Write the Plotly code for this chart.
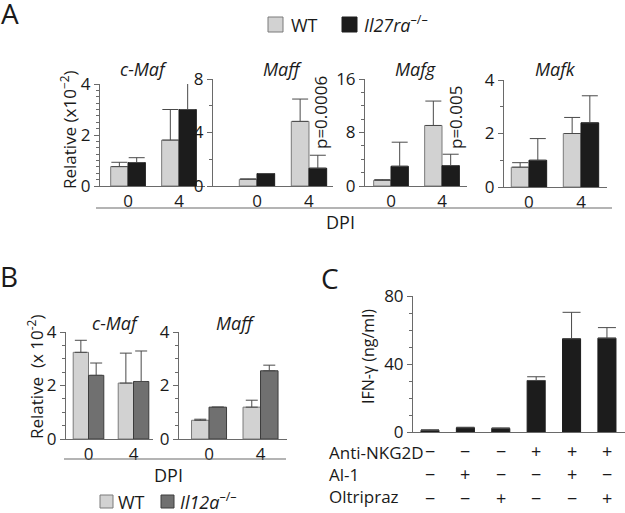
import plotly.graph_objects as go

W, H = 625, 513
FONT = "Open Sans"

# ---------------- data ----------------
dpi_labels = ["0", "4"]

# Panel A (WT vs Il27ra-/-), values x10^-2
a_genes = ["c-Maf", "Maff", "Mafg", "Mafk"]
a_wt = [[0.76, 1.80], [0.50, 4.83], [0.85, 9.05], [0.74, 2.00]]
a_wt_err = [[0.17, 1.20], [0.03, 1.67], [0.10, 3.65], [0.17, 0.60]]
a_ko = [[0.92, 3.00], [0.93, 1.33], [2.95, 3.05], [1.00, 2.40]]
a_ko_err = [[0.19, 1.20], [0.0, 0.97], [3.60, 1.70], [0.81, 1.01]]
a_ymax = [4, 8, 16, 4]
a_ytick = [[0, 2, 4], [0, 4, 8], [0, 8, 16], [0, 2, 4]]
a_minor = [0.25, 2, 2, 1]

# Panel B (WT vs Il12a-/-)
b_genes = ["c-Maf", "Maff"]
b_wt = [[3.24, 2.09], [0.70, 1.19]]
b_wt_err = [[0.45, 1.12], [0.04, 0.26]]
b_ko = [[2.38, 2.15], [1.19, 2.55]]
b_ko_err = [[0.46, 1.14], [0.0, 0.21]]

# Panel C IFN-gamma
c_vals = [1.0, 2.5, 2.1, 30.3, 54.8, 55.2]
c_err = [0.3, 0.3, 0.3, 2.2, 15.6, 6.2]
c_anti = ["−", "−", "−", "+", "+", "+"]
c_al1 = ["−", "+", "−", "−", "+", "−"]
c_olt = ["−", "−", "+", "−", "−", "+"]
c_rows = ["Anti-NKG2D", "Al-1", "Oltripraz"]

# ---------------- layout helpers ----------------
def xd(px):
    return px / W

def yd(py):
    return 1 - py / H

WT_FILL, WT_LINE = "#d2d2d2", "#7a7a7a"
KO_A = "#1c1c1c"
KO_B_FILL, KO_B_LINE = "#707070", "#3c3c3c"
AX = "#6a6a6a"
ERR = "#4a4a4a"
TXT = "#1a1a1a"
BW = 0.34
TICK = 17

fig = go.Figure()
layout = dict(width=W, height=H, margin=dict(l=0, r=0, t=0, b=0, pad=0, autoexpand=False),
              autosize=False, template="none",
              paper_bgcolor="white", plot_bgcolor="white", showlegend=False,
              barmode="overlay", font=dict(family=FONT, size=17, color=TXT))
annotations = []
shapes = []

def add_axes(i, xpx, ypx, xr, yr, ytickvals, minor_dtick, ticklabels=True, xticktext=None):
    xk = "xaxis" if i == 1 else f"xaxis{i}"
    yk = "yaxis" if i == 1 else f"yaxis{i}"
    layout[xk] = dict(domain=[xd(xpx[0]), xd(xpx[1])], range=xr, anchor=f"y{i}" if i > 1 else "y",
                      showline=True, linecolor=AX, linewidth=1, ticks="", showgrid=False,
                      zeroline=False, showticklabels=ticklabels, automargin=False,
                      tickvals=[0, 1] if ticklabels else None, ticktext=xticktext,
                      tickfont=dict(size=TICK, family=FONT, color=TXT), fixedrange=True)
    layout[yk] = dict(domain=[yd(ypx[1]), yd(ypx[0])], range=yr, anchor=f"x{i}" if i > 1 else "x",
                      showline=True, linecolor=AX, linewidth=1, ticks="outside", ticklen=5,
                      tickcolor=AX, tickvals=ytickvals, showgrid=False, zeroline=False,
                      automargin=False,
                      tickfont=dict(size=TICK, family=FONT, color=TXT),
                      minor=dict(dtick=minor_dtick, ticks="outside", ticklen=3, tickcolor=AX,
                                 showgrid=False),
                      fixedrange=True)

def add_pair(i, wt, wt_err, ko, ko_err, ko_fill, ko_line, cap):
    xa = "x" if i == 1 else f"x{i}"
    ya = "y" if i == 1 else f"y{i}"
    fig.add_trace(go.Bar(x=[0, 1], y=wt, width=BW, offset=-BW, xaxis=xa, yaxis=ya,
                         marker=dict(color=WT_FILL, line=dict(color=WT_LINE, width=1)),
                         error_y=dict(type="data", symmetric=False, array=wt_err,
                                      arrayminus=[0, 0], color=ERR, thickness=1, width=cap),
                         cliponaxis=False))
    fig.add_trace(go.Bar(x=[0, 1], y=ko, width=BW, offset=0, xaxis=xa, yaxis=ya,
                         marker=dict(color=ko_fill, line=dict(color=ko_line, width=1)),
                         error_y=dict(type="data", symmetric=False, array=ko_err,
                                      arrayminus=[0, 0], color=ERR, thickness=1, width=cap),
                         cliponaxis=False))

def txt(x, y, text, size=17, angle=0, xanchor="center"):
    return dict(x=x, y=y, xref="paper", yref="paper", text=text, showarrow=False,
                textangle=angle, xanchor=xanchor, yanchor="middle",
                font=dict(size=size, family=FONT, color=TXT))

# Panel A subplots: (axis x start, x end), (y top, y bottom), x range
a_geom = [
    ((100, 205), (84, 186), [-0.55, 1.51]),
    ((213, 333), (79, 186), [-0.846, 1.462]),
    ((365, 467), (79, 186), [-0.51, 1.49]),
    ((504, 607), (80, 187), [-0.48, 1.50]),
]
a_title_x = [143, 282, 415, 555]
for k in range(4):
    i = k + 1
    xpx, ypx, xr = a_geom[k]
    add_axes(i, xpx, ypx, xr, [0, a_ymax[k]], a_ytick[k], a_minor[k], True, dpi_labels)
    add_pair(i, a_wt[k], a_wt_err[k], a_ko[k], a_ko_err[k], KO_A, KO_A, 8)
    annotations.append(txt(xd(a_title_x[k]), yd(69), f"<i>{a_genes[k]}</i>", size=18))

# Panel B subplots
b_geom = [
    ((66, 153), (332, 439), [-0.5, 1.433]),
    ((179, 287), (332, 439), [-0.583, 1.514]),
]
b_title_x = [115, 235]
for k in range(2):
    i = k + 5
    xpx, ypx, xr = b_geom[k]
    add_axes(i, xpx, ypx, xr, [0, 4], [0, 2, 4], 0.5, True, dpi_labels)
    add_pair(i, b_wt[k], b_wt_err[k], b_ko[k], b_ko_err[k], KO_B_FILL, KO_B_LINE, 6)
    annotations.append(txt(xd(b_title_x[k]), yd(323), f"<i>{b_genes[k]}</i>", size=18))

# Panel C
add_axes(7, (413, 625), (296, 432), [-0.48, 5.51], [0, 80], [0, 40, 80], 10, ticklabels=False)
fig.add_trace(go.Bar(x=list(range(len(c_vals))), y=c_vals, width=0.51, xaxis="x7", yaxis="y7",
                     marker=dict(color=KO_A, line=dict(color=KO_A, width=1)),
                     error_y=dict(type="data", symmetric=False, array=c_err,
                                  arrayminus=[0] * len(c_vals), color=ERR, thickness=1, width=9),
                     cliponaxis=False))
# treatment table: one multi-line text per column (rows at ~451/473/495 px)
TABLE_Y = 474
annotations.append(dict(x=xd(327), y=yd(TABLE_Y), xref="paper", yref="paper",
                        text="<br>".join(c_rows), showarrow=False, xanchor="left",
                        yanchor="middle", align="left",
                        font=dict(size=17, family=FONT, color=TXT)))
for j in range(len(c_vals)):
    col = "<br>".join([c_anti[j], c_al1[j], c_olt[j]])
    annotations.append(dict(x=j, y=yd(TABLE_Y), xref="x7", yref="paper", text=col,
                            showarrow=False, xanchor="center", yanchor="middle", align="center",
                            font=dict(size=18, family=FONT, color=TXT)))

# Axis titles / labels
annotations += [
    txt(xd(68), yd(130), "Relative (x10<sup>−2</sup>)", angle=-90),
    txt(xd(35), yd(377), "Relative&nbsp;&nbsp;(x 10<sup>-2</sup>)", angle=-90),
    txt(xd(368), yd(357), "IFN-γ (ng/ml)", size=16, angle=-90),
    txt(xd(340), yd(222), "DPI", size=18),
    txt(xd(169), yd(475), "DPI", size=18),
    txt(xd(320), yd(113), "p=0.0006", angle=-90),
    txt(xd(455), yd(118), "p=0.005", angle=-90),
    txt(xd(289), yd(25), "WT", size=18, xanchor="left"),
    txt(xd(362), yd(24), "<i>Il27ra</i><sup>–/–</sup>", size=18, xanchor="left"),
    txt(xd(116), yd(502), "WT", size=18, xanchor="left"),
    txt(xd(178), yd(501), "<i>Il12a</i><sup>–/–</sup>", size=18, xanchor="left"),
]

for letter, (lx, ly) in {"A": (10, 13), "B": (9, 276), "C": (330, 278)}.items():
    annotations.append(txt(xd(lx), yd(ly), letter, size=28))

# DPI group lines
shapes.append(dict(type="line", xref="paper", yref="paper", x0=xd(96), x1=xd(612),
                   y0=yd(208), y1=yd(208), line=dict(color=AX, width=1.2)))
shapes.append(dict(type="line", xref="paper", yref="paper", x0=xd(64), x1=xd(286),
                   y0=yd(459), y1=yd(459), line=dict(color=AX, width=1.2)))
# legend swatches
for (x0, y0, x1, y1, fill, line) in [(268, 17, 283, 32, WT_FILL, WT_LINE),
                                     (342, 17, 357, 32, KO_A, KO_A),
                                     (100, 495, 113, 508, WT_FILL, WT_LINE),
                                     (161, 495, 174, 508, KO_B_FILL, KO_B_LINE)]:
    shapes.append(dict(type="rect", xref="paper", yref="paper", x0=xd(x0), x1=xd(x1),
                       y0=yd(y1), y1=yd(y0), fillcolor=fill, line=dict(color=line, width=1)))

layout["annotations"] = annotations
layout["shapes"] = shapes
fig.update_layout(**layout)
fig.write_html("out.html", config={"displayModeBar": False},
               post_script="document.body.style.margin='0px';")
